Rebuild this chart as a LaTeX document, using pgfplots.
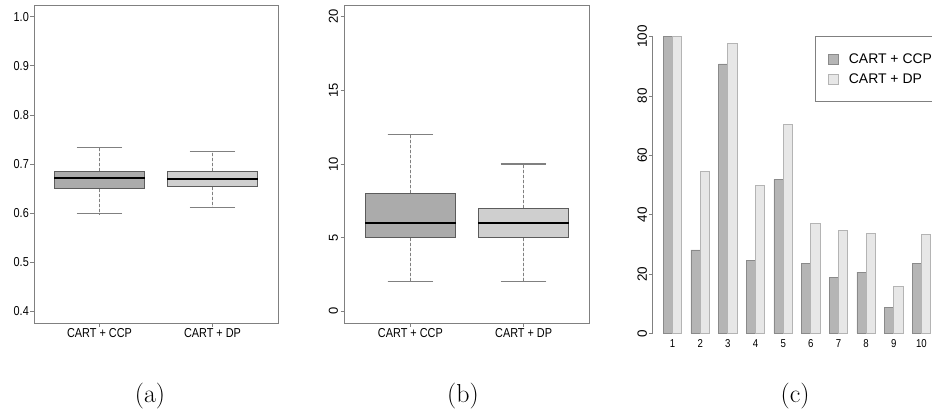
\documentclass[border=0pt]{standalone}
\usepackage{pgfplots}
\pgfplotsset{compat=1.18}
\usepgfplotslibrary{statistics}
\usepackage{fontspec}
\newfontfamily\hv{Liberation Sans}
\newfontfamily\hvn[FakeStretch=0.84]{Liberation Sans}
\definecolor{boxA}{HTML}{ABABAB}
\definecolor{boxB}{HTML}{CFCFCF}
\definecolor{boxedge}{HTML}{5C5C5C}
\definecolor{frame}{HTML}{808080}
\definecolor{ccpfill}{HTML}{B5B5B5}
\definecolor{ccpedge}{HTML}{8A8A8A}
\definecolor{dpfill}{HTML}{E7E7E7}
\definecolor{dpedge}{HTML}{B4B4B4}
\pgfplotsset{
  rbox/.style={
    scale only axis, width=244bp, height=318bp, anchor=south west,
    axis line style={draw=frame, line width=0.8bp},
    tick pos=left, tick align=outside, major tick length=4bp,
    tick style={draw=frame, line width=0.8bp},
    xmin=0.42, xmax=2.58, xtick={1,2},
    xticklabels={CART + CCP, CART + DP},
    xticklabel style={font=\hvn\fontsize{13}{13}\selectfont, inner sep=1.5bp},
    boxplot/draw direction=y,
    boxplot/box extend=0.8, boxplot/whisker extend=0.4,
    boxplot/every median/.style={black, line width=2bp},
    boxplot/draw/lower whisker/.code={%
      \draw[frame, line width=0.8bp, dash pattern=on 3bp off 2bp]
        (boxplot box cs:\pgfplotsboxplotvalue{lower quartile},0.5) --
        (boxplot box cs:\pgfplotsboxplotvalue{lower whisker},0.5);
      \draw[frame, line width=1.1bp]
        (boxplot whisker cs:\pgfplotsboxplotvalue{lower whisker},0) --
        (boxplot whisker cs:\pgfplotsboxplotvalue{lower whisker},1);},
    boxplot/draw/upper whisker/.code={%
      \draw[frame, line width=0.8bp, dash pattern=on 3bp off 2bp]
        (boxplot box cs:\pgfplotsboxplotvalue{upper quartile},0.5) --
        (boxplot box cs:\pgfplotsboxplotvalue{upper whisker},0.5);
      \draw[frame, line width=1.1bp]
        (boxplot whisker cs:\pgfplotsboxplotvalue{upper whisker},0) --
        (boxplot whisker cs:\pgfplotsboxplotvalue{upper whisker},1);},
  }
}
\begin{document}
\begin{tikzpicture}
\useasboundingbox (0bp,0bp) rectangle (932bp,417bp);
\clip (0bp,0bp) rectangle (932bp,417bp);
% ---------- (a)
\begin{axis}[rbox, at={(34bp,94bp)},
  ymin=0.376, ymax=1.024,
  ytick={0.4,0.5,0.6,0.7,0.8,0.9,1.0},
  yticklabels={0.4,0.5,0.6,0.7,0.8,0.9,1.0},
  yticklabel style={font=\hvn\fontsize{13}{13}\selectfont, inner sep=1bp}]
\addplot[boxplot prepared={draw position=1, lower whisker=0.599, lower quartile=0.650,
  median=0.671, upper quartile=0.685, upper whisker=0.734},
  fill=boxA, draw=boxedge, line width=1bp] coordinates {};
\addplot[boxplot prepared={draw position=2, lower whisker=0.611, lower quartile=0.654,
  median=0.669, upper quartile=0.685, upper whisker=0.726},
  fill=boxB, draw=boxedge, line width=1bp] coordinates {};
\end{axis}
% ---------- (b)
\begin{axis}[rbox, at={(344.7bp,94bp)}, width=244.6bp,
  ymin=-0.8, ymax=20.8,
  ytick={0,5,10,15,20}, yticklabels={0,5,10,15,20},
  yticklabel style={font=\hv\fontsize{13}{13}\selectfont, rotate=90, anchor=south, inner sep=2.5bp}]
\addplot[boxplot prepared={draw position=1, lower whisker=2, lower quartile=5,
  median=6, upper quartile=8, upper whisker=12},
  fill=boxA, draw=boxedge, line width=1bp] coordinates {};
\addplot[boxplot prepared={draw position=2, lower whisker=2, lower quartile=5,
  median=6, upper quartile=7, upper whisker=10},
  fill=boxB, draw=boxedge, line width=1bp] coordinates {};
\end{axis}
% ---------- (c)
\begin{axis}[at={(652.6bp,71.8bp)}, anchor=south west, scale only axis,
  width=288.8bp, height=320.4bp, clip=false,
  xmin=-0.16, xmax=31.16, ymin=-4, ymax=104,
  axis line style={draw=none},
  tick pos=left, tick align=outside, major tick length=3.5bp,
  ytick={0,20,40,60,80,100}, yticklabels={0,20,40,60,80,100},
  ytick style={draw=frame, line width=0.8bp},
  yticklabel style={font=\hv\fontsize{13.5}{13.5}\selectfont, rotate=90, anchor=south, inner sep=2bp},
  xtick={2,5,8,11,14,17,20,23,26,29},
  xticklabels={1,2,3,4,5,6,7,8,9,10},
  xtick style={draw=none},
  xticklabel style={font=\hvn\fontsize{11.5}{11.5}\selectfont, anchor=north, inner sep=0pt, yshift=9bp},
  legend style={at={(0.562,0.965)}, anchor=north west, draw=frame, line width=0.8bp,
    font=\hv\fontsize{14}{15}\selectfont, inner xsep=13bp, inner ysep=15bp, row sep=5bp,
    /tikz/every odd column/.append style={column sep=8bp}},
  legend cell align=left,
  legend image code/.code={\draw[#1, line width=0.6bp] (0bp,-5bp) rectangle (10bp,5bp);}]
\draw[frame, line width=0.8bp] (axis cs:-0.16,0) -- (axis cs:-0.16,100);
\addplot[ybar, bar width=1, bar shift=0pt, fill=ccpfill, draw=ccpedge, line width=0.8bp]
  coordinates {(1.5,100) (4.5,28.1) (7.5,90.8) (10.5,24.6) (13.5,51.9)
               (16.5,23.6) (19.5,18.9) (22.5,20.6) (25.5,8.7) (28.5,23.6)};
\addlegendentry{CART + CCP}
\addplot[ybar, bar width=1, bar shift=0pt, fill=dpfill, draw=dpedge, line width=0.8bp]
  coordinates {(2.5,100) (5.5,54.5) (8.5,97.7) (11.5,49.7) (14.5,70.4)
               (17.5,37.1) (20.5,34.7) (23.5,33.7) (26.5,15.7) (29.5,33.4)};
\addlegendentry{CART + DP}
\end{axis}
% ---------- captions
\node[font=\fontsize{26}{26}\selectfont, anchor=base, inner sep=0pt] at (150bp,15bp) {(a)};
\node[font=\fontsize{26}{26}\selectfont, anchor=base, inner sep=0pt] at (463bp,15bp) {(b)};
\node[font=\fontsize{26}{26}\selectfont, anchor=base, inner sep=0pt] at (795bp,15bp) {(c)};
\end{tikzpicture}
\end{document}
